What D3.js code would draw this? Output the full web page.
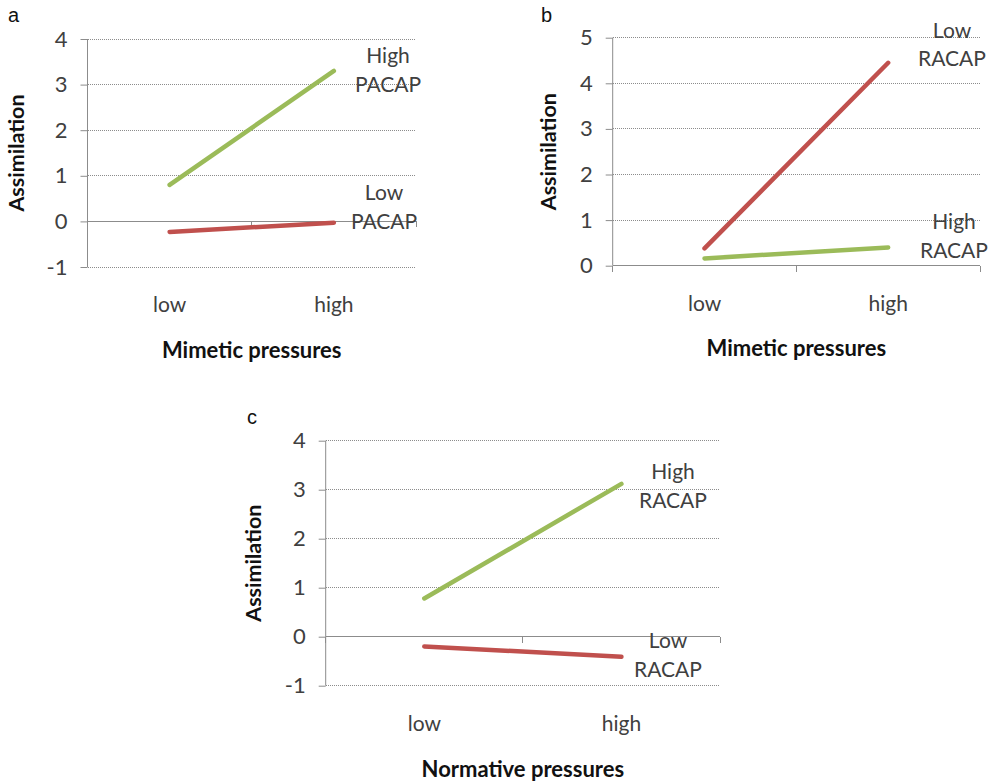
<!DOCTYPE html>
<html>
<head>
<meta charset="utf-8">
<script src="https://cdn.jsdelivr.net/npm/d3@7"></script>
<style>
  html, body { margin: 0; padding: 0; background: #fff; }
  svg { display: block; }
</style>
</head>
<body>
<svg id="chart" width="989" height="782"></svg>
<script>
// ---------------- data ----------------
const categories = ["low", "high"];

// Panel a: Mimetic pressures x PACAP
const aHighPACAP = [0.80, 3.30];
const aLowPACAP  = [-0.23, -0.03];
const aTicks = [-1, 0, 1, 2, 3, 4];

// Panel b: Mimetic pressures x RACAP
const bLowRACAP  = [0.38, 4.45];
const bHighRACAP = [0.16, 0.40];
const bTicks = [0, 1, 2, 3, 4, 5];

// Panel c: Normative pressures x RACAP
const cHighRACAP = [0.78, 3.12];
const cLowRACAP  = [-0.20, -0.41];
const cTicks = [-1, 0, 1, 2, 3, 4];

const panelLetters = ["a", "b", "c"];
const xTitles = ["Mimetic pressures", "Mimetic pressures", "Normative pressures"];
const yTitle = "Assimilation";

const GREEN = "#9BBB59";
const RED = "#C0504D";

// ---------------- layout ----------------
const panels = [
  {
    letter: panelLetters[0], xTitle: xTitles[0], ticks: aTicks,
    left: 87.5, right: 416, top: 39, bottom: 267,
    series: [
      { values: aHighPACAP, color: GREEN, label: ["High", "PACAP"], lx: -28, ly: 63 },
      { values: aLowPACAP,  color: RED,   label: ["Low", "PACAP"],  lx: -32, ly: 200 }
    ],
    letterPos: [8, 22], ytx: 16, xtY: 358
  },
  {
    letter: panelLetters[1], xTitle: xTitles[1], ticks: bTicks,
    left: 612.7, right: 980, top: 37.7, bottom: 265.7,
    series: [
      { values: bLowRACAP,  color: RED,   label: ["Low", "RACAP"],  lx: -28, ly: 37.7 },
      { values: bHighRACAP, color: GREEN, label: ["High", "RACAP"], lx: -26, ly: 229 }
    ],
    letterPos: [541, 22], ytx: 548, xtY: 356
  },
  {
    letter: panelLetters[2], xTitle: xTitles[2], ticks: cTicks,
    left: 325.7, right: 720, top: 440.7, bottom: 685.7,
    series: [
      { values: cHighRACAP, color: GREEN, label: ["High", "RACAP"], lx: -47, ly: 479 },
      { values: cLowRACAP,  color: RED,   label: ["Low", "RACAP"],  lx: -52, ly: 648 }
    ],
    letterPos: [247, 424], ytx: 253, xtY: 776.7
  }
];

const FONT = "Lato, 'Open Sans', sans-serif";
const svg = d3.select("#chart");

panels.forEach(p => {
  const g = svg.append("g");
  const x = d3.scaleBand().domain(categories).range([p.left, p.right]);
  const xc = d => x(d) + x.bandwidth() / 2;
  const y = d3.scaleLinear().domain(d3.extent(p.ticks)).range([p.bottom, p.top]);

  // gridlines (dotted), all except the zero line
  g.append("g").selectAll("line")
    .data(p.ticks.filter(t => t !== 0))
    .join("line")
    .attr("x1", p.left).attr("x2", p.right)
    .attr("y1", d => y(d)).attr("y2", d => y(d))
    .attr("stroke", "#8c8c8c").attr("stroke-width", 1)
    .attr("stroke-dasharray", "1,1")
    .attr("shape-rendering", "crispEdges");

  // y axis
  const yAxis = d3.axisLeft(y).tickValues(p.ticks).tickSize(7).tickPadding(13)
    .tickFormat(d => String(d));
  const ya = g.append("g").attr("transform", `translate(${p.left},0)`).call(yAxis);
  ya.select(".domain").attr("stroke", "#8c8c8c").attr("d", `M-0,${p.top}V${p.bottom}`);
  ya.selectAll(".tick line").attr("stroke", "#8c8c8c");
  ya.selectAll(".tick text")
    .attr("font-family", FONT).attr("font-size", 22).attr("fill", "#404040");

  // x axis at y=0 (category boundaries ticks)
  const y0 = y(0);
  const xa = g.append("g");
  xa.append("line")
    .attr("x1", p.left).attr("x2", p.right).attr("y1", y0).attr("y2", y0)
    .attr("stroke", "#8c8c8c").attr("stroke-width", 1).attr("shape-rendering", "crispEdges");
  const bounds = [p.left].concat(categories.map(c => x(c) + x.bandwidth()));
  xa.selectAll("line.tk").data(bounds).join("line").attr("class", "tk")
    .attr("x1", d => d).attr("x2", d => d).attr("y1", y0).attr("y2", y0 + 6)
    .attr("stroke", "#8c8c8c").attr("shape-rendering", "crispEdges");

  // category labels
  g.append("g").selectAll("text").data(categories).join("text")
    .attr("x", d => xc(d)).attr("y", p.bottom + 45)
    .attr("text-anchor", "middle")
    .attr("font-family", FONT).attr("font-size", 21).attr("fill", "#404040")
    .text(d => d);

  // lines
  const line = d3.line().x((d, i) => xc(categories[i])).y(d => y(d));
  g.append("g").selectAll("path").data(p.series).join("path")
    .attr("d", s => line(s.values))
    .attr("fill", "none").attr("stroke", s => s.color)
    .attr("stroke-width", 4.5).attr("stroke-linecap", "round");

  // series labels
  p.series.forEach(s => {
    const t = g.append("text")
      .attr("text-anchor", "middle")
      .attr("font-family", FONT).attr("font-size", 21).attr("fill", "#404040");
    s.label.forEach((ln, i) => {
      t.append("tspan").attr("x", p.right + s.lx).attr("y", s.ly + i * 28.5).text(ln);
    });
  });

  // y title
  g.append("text")
    .attr("transform", `translate(${p.ytx},${(p.top + p.bottom) / 2}) rotate(-90)`)
    .attr("text-anchor", "middle").attr("dy", "0.35em")
    .attr("font-family", FONT).attr("font-weight", "bold").attr("font-size", 21.5)
    .attr("fill", "#111")
    .text(yTitle);

  // x title
  g.append("text")
    .attr("x", (p.left + p.right) / 2).attr("y", p.xtY)
    .attr("text-anchor", "middle")
    .attr("font-family", FONT).attr("font-weight", "bold").attr("font-size", 22)
    .attr("fill", "#111")
    .text(p.xTitle);

  // panel letter
  g.append("text")
    .attr("x", p.letterPos[0]).attr("y", p.letterPos[1])
    .attr("font-family", "'Liberation Sans', Arial, sans-serif").attr("font-size", 20)
    .attr("fill", "#111")
    .text(p.letter);
});
</script>
</body>
</html>
